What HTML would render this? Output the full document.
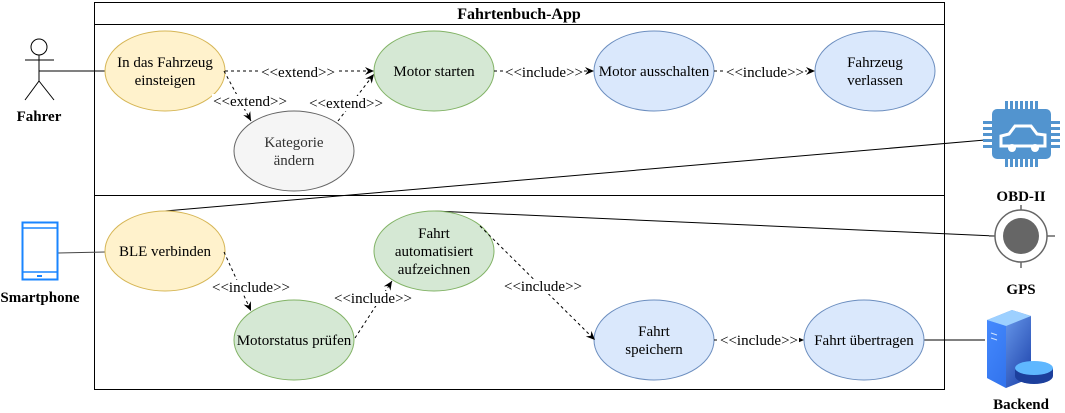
<!DOCTYPE html>
<html><head><meta charset="utf-8"><style>
html,body{margin:0;padding:0;background:#fff;}
svg{display:block;}
text{font-family:"Liberation Serif",serif;font-size:15px;fill:#000;}
.b{font-weight:bold;}
</style></head><body>
<svg width="1065" height="413" viewBox="0 0 1065 413" xmlns="http://www.w3.org/2000/svg">
<defs>
<marker id="a" markerWidth="10" markerHeight="10" refX="9" refY="5" orient="auto" markerUnits="userSpaceOnUse">
<path d="M0,1 L9,5 L0,9 L3,5 z" fill="#000"/></marker>
<linearGradient id="srv" x1="0" y1="0" x2="1" y2="1"><stop offset="0" stop-color="#7fb3ff"/><stop offset="1" stop-color="#1a3fa8"/></linearGradient>
</defs>
<rect x="94.5" y="2.5" width="850" height="387" fill="none" stroke="#000"/>
<line x1="94" y1="24.5" x2="944" y2="24.5" stroke="#000"/>
<line x1="94" y1="195.5" x2="944" y2="195.5" stroke="#000"/>
<text x="519" y="19" text-anchor="middle" class="b" style="font-size:16px">Fahrtenbuch-App</text>

<line x1="39" y1="71" x2="105" y2="71" stroke="#000"/>
<line x1="58" y1="253" x2="105" y2="252" stroke="#444"/>
<line x1="165" y1="211" x2="985" y2="140" stroke="#000"/>
<line x1="434" y1="211" x2="995" y2="236" stroke="#000"/>
<line x1="924" y1="340" x2="985" y2="340" stroke="#000"/>

<ellipse cx="165" cy="71" rx="60" ry="40" fill="#fff2cc" stroke="#d6b656"/>
<ellipse cx="434" cy="71" rx="60" ry="40" fill="#d5e8d4" stroke="#82b366"/>
<ellipse cx="654" cy="71" rx="60" ry="40" fill="#dae8fc" stroke="#6c8ebf"/>
<ellipse cx="875" cy="71" rx="60" ry="40" fill="#dae8fc" stroke="#6c8ebf"/>
<ellipse cx="294" cy="151" rx="60" ry="40" fill="#f5f5f5" stroke="#666"/>
<ellipse cx="165" cy="251" rx="60" ry="40" fill="#fff2cc" stroke="#d6b656"/>
<ellipse cx="434" cy="251" rx="60" ry="40" fill="#d5e8d4" stroke="#82b366"/>
<ellipse cx="294" cy="340" rx="60" ry="40" fill="#d5e8d4" stroke="#82b366"/>
<ellipse cx="654" cy="340" rx="60" ry="40" fill="#dae8fc" stroke="#6c8ebf"/>
<ellipse cx="864" cy="340" rx="60" ry="40" fill="#dae8fc" stroke="#6c8ebf"/>

<text x="165" y="67" text-anchor="middle">In das Fahrzeug</text>
<text x="165" y="85" text-anchor="middle">einsteigen</text>
<text x="434" y="76" text-anchor="middle">Motor starten</text>
<text x="654" y="76" text-anchor="middle">Motor ausschalten</text>
<text x="875" y="67" text-anchor="middle">Fahrzeug</text>
<text x="875" y="85" text-anchor="middle">verlassen</text>
<text x="294" y="147" text-anchor="middle" style="fill:#333">Kategorie</text>
<text x="294" y="165" text-anchor="middle" style="fill:#333">ändern</text>
<text x="165" y="256" text-anchor="middle">BLE verbinden</text>
<text x="434" y="238" text-anchor="middle">Fahrt</text>
<text x="434" y="256" text-anchor="middle">automatisiert</text>
<text x="434" y="274" text-anchor="middle">aufzeichnen</text>
<text x="294" y="345" text-anchor="middle">Motorstatus prüfen</text>
<text x="654" y="336" text-anchor="middle">Fahrt</text>
<text x="654" y="354" text-anchor="middle">speichern</text>
<text x="864" y="345" text-anchor="middle">Fahrt übertragen</text>

<g stroke="#000" stroke-dasharray="3,3" fill="none" marker-end="url(#a)">
<line x1="225" y1="71" x2="374" y2="71"/>
<line x1="224" y1="71" x2="251" y2="121"/>
<line x1="338" y1="121" x2="374" y2="74"/>
<line x1="494" y1="71" x2="594" y2="71"/>
<line x1="714" y1="71" x2="815" y2="71"/>
<line x1="224" y1="252" x2="251" y2="311"/>
<line x1="355" y1="338" x2="392" y2="281"/>
<line x1="480" y1="226" x2="595" y2="340"/>
<line x1="714" y1="340" x2="804" y2="340"/>
</g>
<g>
<rect x="260" y="64" width="76" height="15" fill="#fff"/>
<text x="298" y="77" text-anchor="middle">&lt;&lt;extend&gt;&gt;</text>
<rect x="212" y="94" width="76" height="15" fill="#fff"/>
<text x="250" y="106" text-anchor="middle">&lt;&lt;extend&gt;&gt;</text>
<rect x="308" y="96" width="76" height="15" fill="#fff"/>
<text x="346" y="108" text-anchor="middle">&lt;&lt;extend&gt;&gt;</text>
<rect x="504" y="64" width="80" height="15" fill="#fff"/>
<text x="544" y="77" text-anchor="middle">&lt;&lt;include&gt;&gt;</text>
<rect x="725" y="64" width="80" height="15" fill="#fff"/>
<text x="765" y="77" text-anchor="middle">&lt;&lt;include&gt;&gt;</text>
<rect x="211" y="280" width="80" height="15" fill="#fff"/>
<text x="251" y="292" text-anchor="middle">&lt;&lt;include&gt;&gt;</text>
<rect x="333" y="291" width="80" height="15" fill="#fff"/>
<text x="373" y="303" text-anchor="middle">&lt;&lt;include&gt;&gt;</text>
<rect x="503" y="279" width="80" height="15" fill="#fff"/>
<text x="543" y="291" text-anchor="middle">&lt;&lt;include&gt;&gt;</text>
<rect x="719" y="333" width="80" height="15" fill="#fff"/>
<text x="759" y="345" text-anchor="middle">&lt;&lt;include&gt;&gt;</text>
</g>

<g stroke="#000" fill="#fff">
<circle cx="39" cy="47" r="8"/>
<line x1="39" y1="55" x2="39" y2="81"/>
<line x1="25" y1="60" x2="54" y2="60"/>
<line x1="39" y1="81" x2="25" y2="100"/>
<line x1="39" y1="81" x2="54" y2="100"/>
</g>
<text x="39" y="121" text-anchor="middle" class="b">Fahrer</text>

<rect x="22.5" y="222.5" width="35" height="57" fill="#fff" stroke="#1a85ff" stroke-width="2"/>
<line x1="22" y1="228" x2="57" y2="228" stroke="#1a85ff" stroke-width="1.5"/>
<line x1="22" y1="272" x2="57" y2="272" stroke="#1a85ff" stroke-width="1.5"/>
<rect x="37" y="275" width="5" height="2" fill="#1a85ff"/>
<text x="40" y="302" text-anchor="middle" class="b">Smartphone</text>

<g fill="#5294cf">
<rect x="1005" y="101" width="3" height="10"/><rect x="1010" y="101" width="3" height="10"/><rect x="1015" y="101" width="3" height="10"/><rect x="1020" y="101" width="3" height="10"/><rect x="1025" y="101" width="3" height="10"/><rect x="1030" y="101" width="3" height="10"/><rect x="1035" y="101" width="3" height="10"/>
<rect x="1005" y="157" width="3" height="10"/><rect x="1010" y="157" width="3" height="10"/><rect x="1015" y="157" width="3" height="10"/><rect x="1020" y="157" width="3" height="10"/><rect x="1025" y="157" width="3" height="10"/><rect x="1030" y="157" width="3" height="10"/><rect x="1035" y="157" width="3" height="10"/>
<rect x="983" y="121" width="10" height="3"/><rect x="983" y="127" width="10" height="3"/><rect x="983" y="133" width="10" height="3"/><rect x="983" y="139" width="10" height="3"/><rect x="983" y="145" width="10" height="3"/>
<rect x="1050" y="121" width="10" height="3"/><rect x="1050" y="127" width="10" height="3"/><rect x="1050" y="133" width="10" height="3"/><rect x="1050" y="139" width="10" height="3"/><rect x="1050" y="145" width="10" height="3"/>
<rect x="992" y="109" width="59" height="50" rx="5"/>
</g>
<g fill="none" stroke="#fff" stroke-width="3">
<path d="M1001,146 L1001,136 L1009,134 L1015,126 L1031,126 L1037,134 L1045,135 L1045,146 Z"/>
</g>
<circle cx="1012" cy="148" r="4" fill="#fff"/><circle cx="1035" cy="148" r="4" fill="#fff"/>
<text x="1021" y="201" text-anchor="middle" class="b">OBD-II</text>

<g stroke="#666" stroke-width="1.5" fill="none">
<line x1="1021" y1="205" x2="1021" y2="211"/>
<line x1="1021" y1="261" x2="1021" y2="268"/>
<line x1="994" y1="236" x2="989" y2="236"/>
<line x1="1047" y1="236" x2="1055" y2="236"/>
<circle cx="1021" cy="236" r="26" fill="#fff"/>
</g>
<circle cx="1021" cy="236" r="18" fill="#666"/>
<text x="1021" y="294" text-anchor="middle" class="b">GPS</text>

<polygon points="987,320 1012,310 1031,316 1031,378 1006,388 987,378" fill="url(#srv)"/>
<polygon points="987,320 1012,310 1031,316 1006,326" fill="#9dd0ff"/>
<polygon points="987,320 1006,326 1006,388 987,378" fill="#2f7bff" opacity="0.7"/>
<line x1="991" y1="333" x2="997" y2="335" stroke="#cfe4ff"/>
<line x1="991" y1="338" x2="997" y2="340" stroke="#cfe4ff"/>
<ellipse cx="1034" cy="376" rx="19" ry="8" fill="#1c3f9c"/>
<rect x="1015" y="368" width="38" height="8" fill="#1c3f9c"/>
<ellipse cx="1034" cy="368" rx="19" ry="7" fill="#5fb7ff"/>
<text x="1021" y="409" text-anchor="middle" class="b">Backend</text>
</svg>
</body></html>
